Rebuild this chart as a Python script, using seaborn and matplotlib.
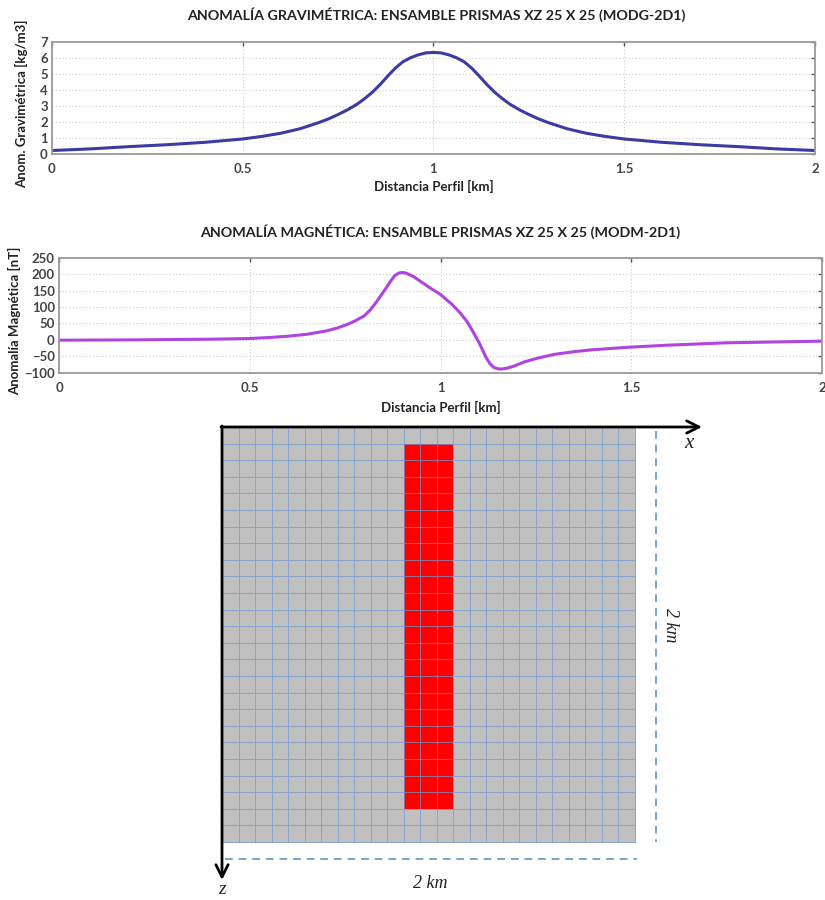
import numpy as np
import pandas as pd
import matplotlib
matplotlib.use("Agg")
import matplotlib.pyplot as plt
from matplotlib.colors import ListedColormap
import seaborn as sns

# ---------------- data ----------------
grav_x = [0.0, 0.1, 0.2, 0.3, 0.4, 0.5, 0.55, 0.6, 0.65, 0.7, 0.725, 0.75, 0.775, 0.8, 0.82, 0.84,
          0.86, 0.88, 0.9, 0.92, 0.94, 0.96, 0.98, 1.0, 1.02, 1.04, 1.06, 1.08, 1.1, 1.12,
          1.14, 1.16, 1.18, 1.2, 1.225, 1.25, 1.275, 1.3, 1.35, 1.4, 1.45, 1.5, 1.6, 1.7,
          1.8, 1.9, 2.0]
grav_y = [0.2, 0.3, 0.44, 0.56, 0.71, 0.92, 1.08, 1.28, 1.56, 1.95, 2.18, 2.45, 2.75, 3.1, 3.45, 3.85,
          4.32, 4.85, 5.35, 5.75, 6.0, 6.18, 6.3, 6.33, 6.3, 6.18, 6.0, 5.75, 5.35, 4.85,
          4.32, 3.85, 3.45, 3.1, 2.75, 2.45, 2.18, 1.95, 1.56, 1.28, 1.08, 0.92, 0.71, 0.56,
          0.44, 0.3, 0.2]

mag_x = [0.0, 0.2, 0.4, 0.5, 0.55, 0.6, 0.65, 0.7, 0.73, 0.76, 0.78, 0.8, 0.815, 0.83, 0.845,
         0.86, 0.87, 0.88, 0.89, 0.9, 0.91, 0.93, 0.95, 0.97, 1.0, 1.03, 1.05, 1.07, 1.085,
         1.1, 1.11, 1.12, 1.13, 1.14, 1.15, 1.16, 1.175, 1.19, 1.22, 1.26, 1.3, 1.35, 1.4,
         1.5, 1.6, 1.75, 1.9, 2.0]
mag_y = [-1, 0, 2, 4, 7, 11, 17, 27, 36, 49, 60, 73, 90, 112, 137,
         162, 180, 195, 203, 205, 203, 192, 176, 160, 138, 108, 84, 55, 25,
         -6, -30, -55, -73, -84, -88, -89, -86, -81, -67, -54, -44, -36, -30,
         -22, -16, -9, -6, -4]

x_ticks = [0, 0.5, 1, 1.5, 2]
x_tick_labels = ["0", "0.5", "1", "1.5", "2"]
grav_ticks = [0, 1, 2, 3, 4, 5, 6, 7]
mag_ticks = [-100, -50, 0, 50, 100, 150, 200, 250]

title_grav = "ANOMALÍA GRAVIMÉTRICA: ENSAMBLE PRISMAS XZ 25 X 25 (MODG-2D1)"
title_mag = "ANOMALÍA MAGNÉTICA: ENSAMBLE PRISMAS XZ 25 X 25 (MODM-2D1)"
xlabel = "Distancia Perfil [km]"
ylabel_grav = "Anom. Gravimétrica [kg/m3]"
ylabel_mag = "Anomalía Magnética [nT]"

n_cells = 25
red_cols = (11, 14)   # columns 11..13
red_rows = (1, 23)    # rows 1..22
size_label = "2 km"

# ---------------- style ----------------
sns.set_theme(style="white")
plt.rcParams["font.family"] = ["Lato", "DejaVu Sans"]

fig = plt.figure(figsize=(8.25, 9.0), dpi=100)
W, H = 825.0, 900.0

def px_axes(l, t, r, b):
    return fig.add_axes([l / W, 1 - b / H, (r - l) / W, (b - t) / H])

grav_color = "#3b3ba3"
mag_color = "#b044e0"


def style_axes(ax, yticks, ylim):
    ax.set_xlim(0, 2)
    ax.set_ylim(*ylim)
    ax.set_xticks(x_ticks)
    ax.set_xticklabels(x_tick_labels)
    ax.set_yticks(yticks)
    ax.grid(True, linestyle=(0, (1, 2)), color="#cccccc", linewidth=0.8)
    for s in ax.spines.values():
        s.set_color("#9a9a9a")
        s.set_linewidth(1.3)
        s.set_visible(True)
    ax.tick_params(axis="both", direction="in", length=3, width=1, color="#555555",
                   top=True, right=True, labelsize=9.5, labelcolor="#444444", pad=3)
    ax.xaxis.set_tick_params(pad=7)
    for lab in ax.get_xticklabels() + ax.get_yticklabels():
        lab.set_fontweight("bold")


# ---------- gravity ----------
ax1 = px_axes(52, 41.7, 815, 153.7)
df_g = pd.DataFrame({"x": grav_x, "y": grav_y})
sns.lineplot(data=df_g, x="x", y="y", ax=ax1, color=grav_color, linewidth=2.2)
style_axes(ax1, grav_ticks, (0, 7))
ax1.set_xlabel("")
ax1.set_ylabel("")
ax1.text(0.503, (153.7 - 15) / 112, title_grav, transform=ax1.transAxes, ha="center",
         va="center", fontsize=10.3, fontweight="bold", color="#222222")
ax1.text(0.5, (153.7 - 186) / 112, xlabel, transform=ax1.transAxes, ha="center",
         va="center", fontsize=9.5, fontweight="bold", color="#222222")
ax1.text((22 - 52) / 763, 0.45, ylabel_grav, transform=ax1.transAxes, ha="center",
         va="center", rotation=90, fontsize=9.5, fontweight="bold", color="#222222")

# ---------- magnetic ----------
ax2 = px_axes(59, 257.7, 822, 372.7)
df_m = pd.DataFrame({"x": mag_x, "y": mag_y})
sns.lineplot(data=df_m, x="x", y="y", ax=ax2, color=mag_color, linewidth=2.2)
style_axes(ax2, mag_ticks, (-100, 250))
ax2.set_xlabel("")
ax2.set_ylabel("")
ax2.text(0.5, (372.7 - 232) / 115, title_mag, transform=ax2.transAxes, ha="center",
         va="center", fontsize=10.3, fontweight="bold", color="#222222")
ax2.text(0.5, (372.7 - 407) / 115, xlabel, transform=ax2.transAxes, ha="center",
         va="center", fontsize=9.5, fontweight="bold", color="#222222")
ax2.text((15 - 59) / 763, 0.45, ylabel_mag, transform=ax2.transAxes, ha="center",
         va="center", rotation=90, fontsize=9.5, fontweight="bold", color="#222222")

# ---------- prism grid ----------
model = np.zeros((n_cells, n_cells))
model[red_rows[0]:red_rows[1], red_cols[0]:red_cols[1]] = 1
ax3 = px_axes(190, 415, 720, 900)
sns.heatmap(model, ax=ax3, cmap=ListedColormap(["#c0c0c0", "#ff0000"]), cbar=False,
            linewidths=0.7, linecolor=(0.45, 0.60, 0.82, 0.7),
            xticklabels=False, yticklabels=False, square=False)
cell_px = 16.52
x0_px, y0_px = 222.0, 427.0
ax3.set_xlim((190 - x0_px) / cell_px, (720 - x0_px) / cell_px)
ax3.set_ylim((900 - y0_px) / 16.6, (415 - y0_px) / 16.6)
ax3.axis("off")

def cx(px):
    return (px - x0_px) / cell_px

def cy(py):
    return (py - y0_px) / 16.6

arrow_kw = dict(arrowstyle="->", color="black", lw=2.0, mutation_scale=22,
                shrinkA=0, shrinkB=0)
ax3.annotate("", xy=(cx(702), 0), xytext=(cx(221), 0), arrowprops=arrow_kw)
ax3.annotate("", xy=(0, cy(880)), xytext=(0, cy(426)), arrowprops=arrow_kw)

dash_color = "#7aa2d8"
ax3.plot([cx(656), cx(656)], [cy(431), cy(842)], linestyle=(0, (4, 3)),
         color=dash_color, lw=1.4)
ax3.plot([cx(225), cx(637)], [cy(859), cy(859)], linestyle=(0, (4, 3)),
         color=dash_color, lw=1.4)

serif = ["Liberation Serif", "DejaVu Serif"]
ax3.text(cx(689), cy(444), "x", family=serif, style="italic", fontsize=15,
         ha="center", va="center", color="#222222")
ax3.text(cx(222), cy(889), "z", family=serif, style="italic", fontsize=14,
         ha="center", va="center", color="#222222")
ax3.text(cx(671), cy(625), size_label, family=serif, style="italic", fontsize=13,
         ha="center", va="center", rotation=270, color="#222222")
ax3.text(cx(430), cy(883), size_label, family=serif, style="italic", fontsize=13,
         ha="center", va="center", color="#222222")

fig.savefig("out.png", dpi=100)
